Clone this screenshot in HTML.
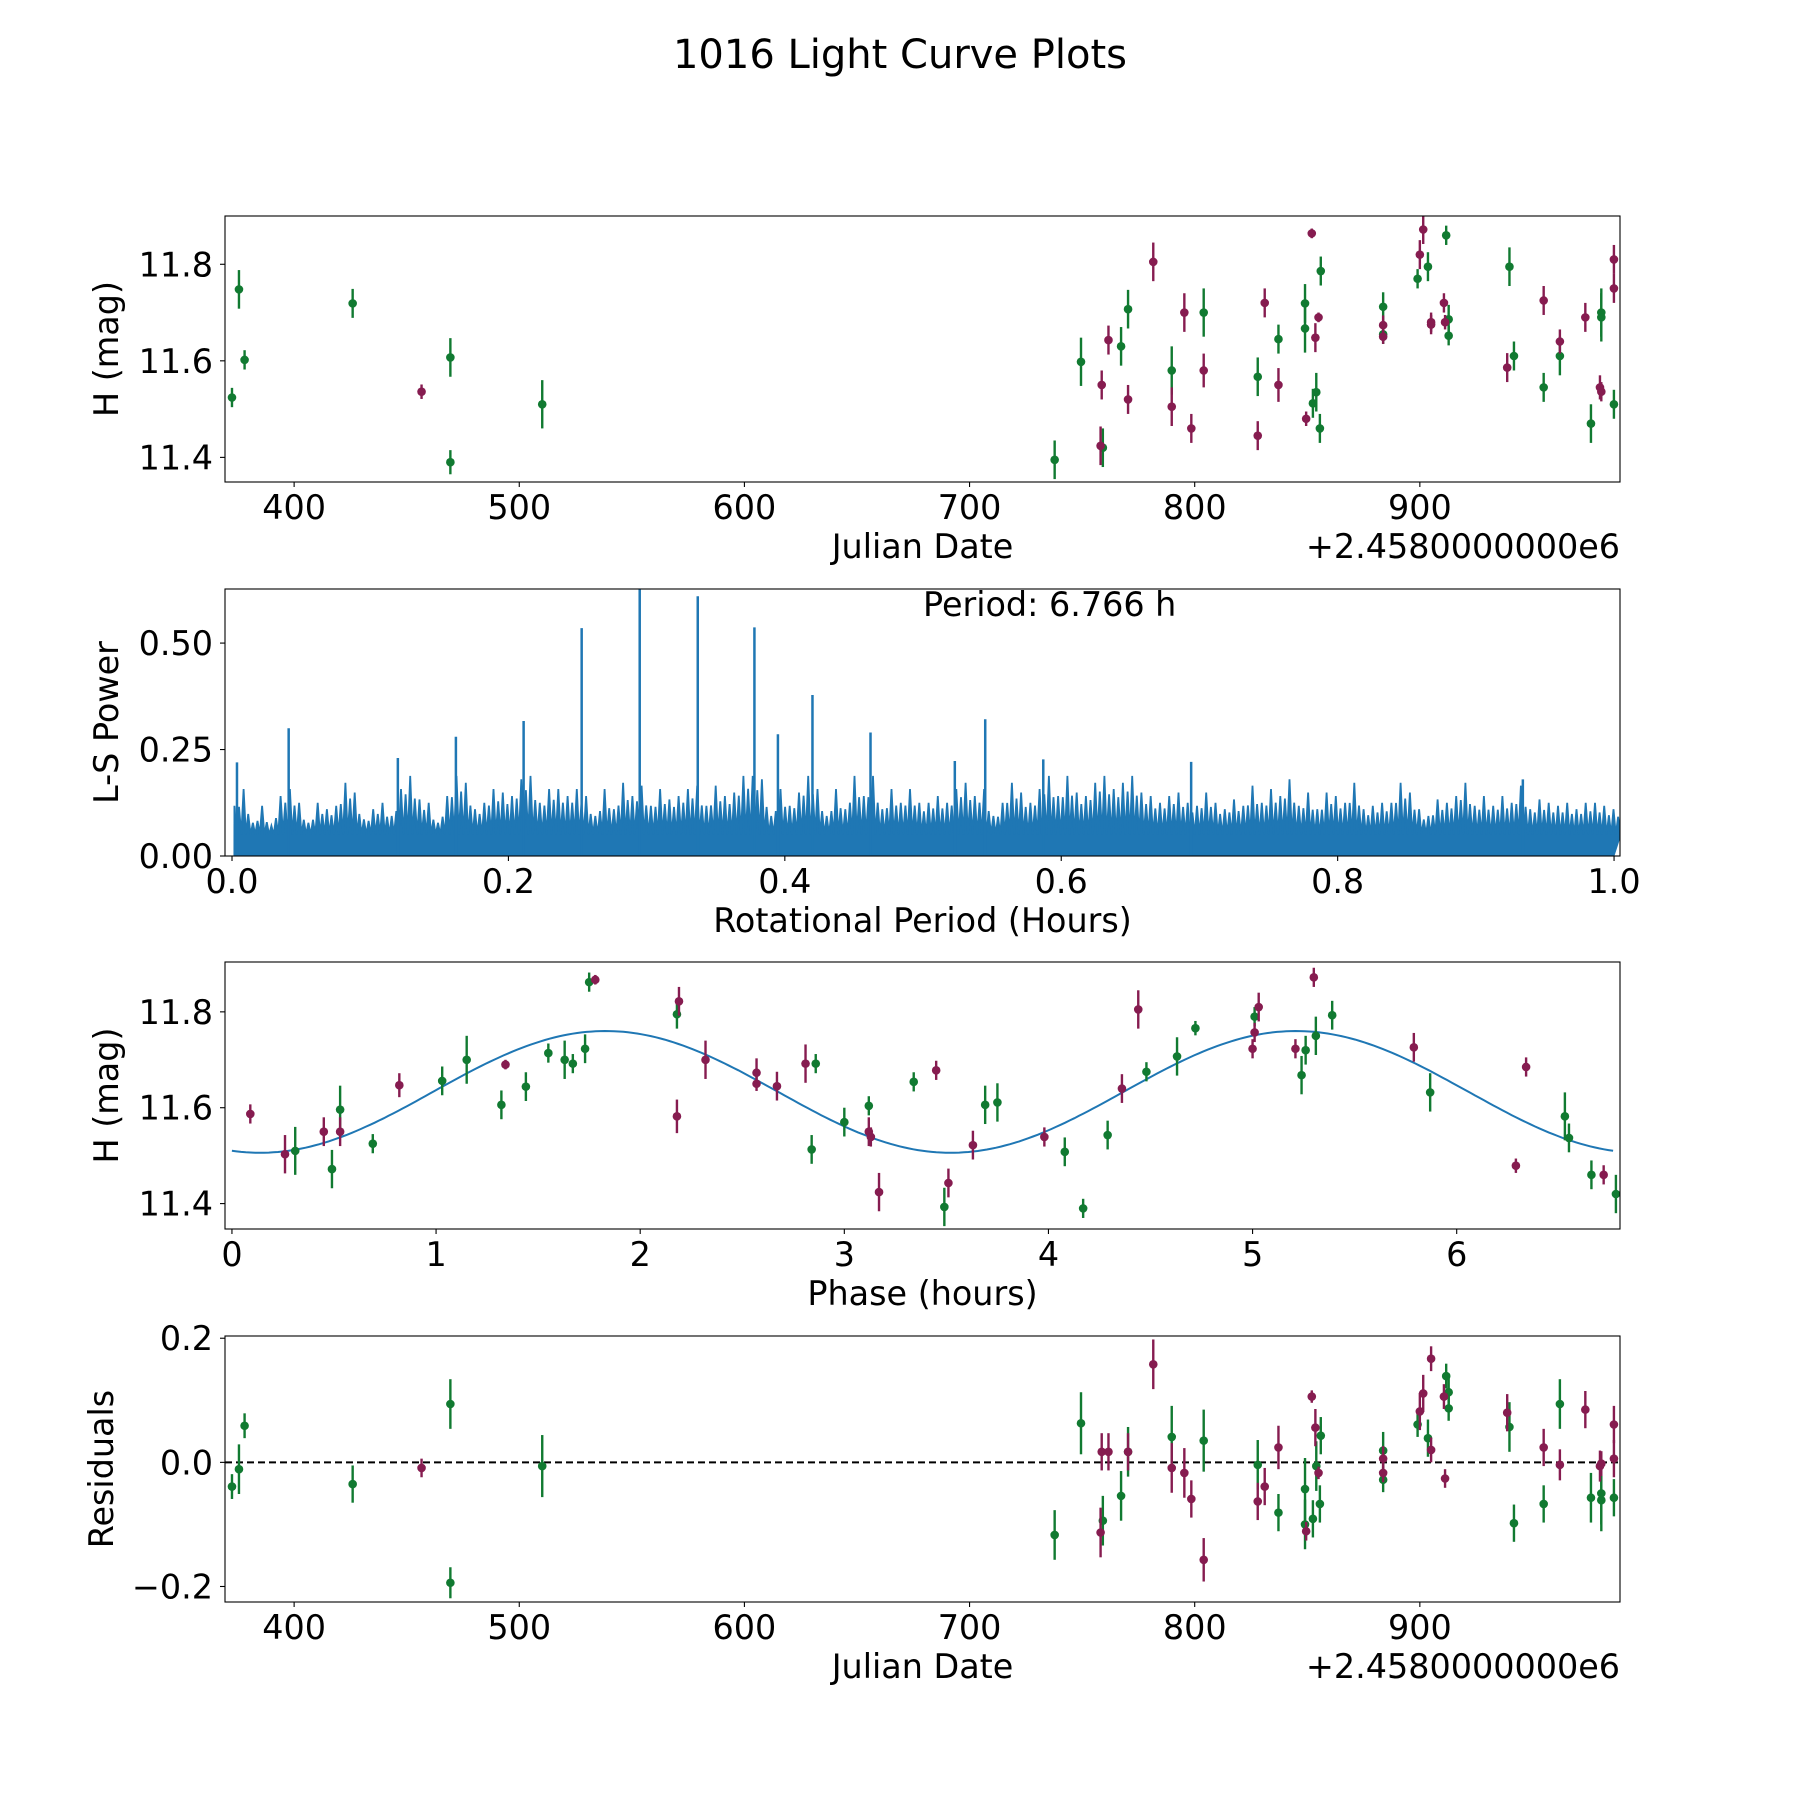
<!DOCTYPE html>
<html><head><meta charset="utf-8"><title>1016 Light Curve Plots</title>
<style>
html,body{margin:0;padding:0;background:#fff;}
svg{display:block;font-family:"DejaVu Sans","Liberation Sans",sans-serif;}
</style></head>
<body>
<svg id="fig" xmlns="http://www.w3.org/2000/svg" width="1800" height="1800" viewBox="0 0 1800 1800">
<rect x="0" y="0" width="1800" height="1800" fill="#fff"/>
<text x="900" y="68" text-anchor="middle" font-size="40">1016 Light Curve Plots</text>
</svg>
<script>
// ---------- Panel 1: light curve (JD offset from 2458000) ----------
const lcGreenJD = [372.4,375.5,378,426,469.4,469.4,510.2,737.8,749.5,759.2,767.3,770.4,789.8,804,828,837.2,849,849,852.5,854,855.6,856,883.7,883.7,899,903.6,911.7,912.8,912.8,939.8,941.8,955,962.2,976,980.6,980.6,986.2];
const lcGreenMag = [11.524,11.748,11.602,11.719,11.607,11.39,11.51,11.395,11.598,11.42,11.63,11.707,11.58,11.70,11.567,11.645,11.667,11.719,11.512,11.535,11.46,11.786,11.712,11.655,11.77,11.795,11.86,11.686,11.652,11.795,11.61,11.545,11.61,11.47,11.70,11.69,11.51];
const lcGreenErr = [0.02,0.04,0.02,0.03,0.04,0.025,0.05,0.04,0.05,0.04,0.04,0.04,0.05,0.05,0.04,0.03,0.05,0.04,0.03,0.04,0.03,0.03,0.03,0.02,0.02,0.03,0.02,0.03,0.02,0.04,0.03,0.03,0.04,0.04,0.05,0.05,0.03];
const lcRedJD = [456.6,758.7,758.2,761.7,770.4,781.6,789.8,795.4,798.5,804,828,831.1,837.2,849.5,852,853.6,855,883.7,883.7,900,901.5,905,905,910.7,911.2,938.8,955,962.2,973.5,980,980.6,986.2,986.2];
const lcRedMag = [11.536,11.55,11.424,11.643,11.52,11.805,11.505,11.70,11.46,11.58,11.445,11.72,11.55,11.48,11.864,11.648,11.69,11.674,11.65,11.82,11.872,11.68,11.675,11.72,11.68,11.586,11.725,11.64,11.69,11.545,11.536,11.81,11.75];
const lcRedErr = [0.015,0.03,0.04,0.03,0.03,0.04,0.04,0.04,0.03,0.035,0.03,0.03,0.035,0.015,0.01,0.03,0.01,0.02,0.015,0.03,0.03,0.02,0.02,0.02,0.015,0.03,0.03,0.025,0.03,0.025,0.02,0.03,0.03];
// ---------- Panel 4: residuals (same JD order) ----------
const resGreen = [-0.039,-0.011,0.059,-0.035,0.094,-0.194,-0.006,-0.117,0.063,-0.094,-0.054,0.017,0.041,0.035,-0.004,-0.081,-0.043,-0.1,-0.091,-0.006,-0.067,0.043,0.019,-0.028,0.061,0.039,0.139,0.113,0.087,0.057,-0.098,-0.067,0.094,-0.057,-0.05,-0.061,-0.057];
const resRed = [-0.009,0.017,-0.113,0.017,0.017,0.158,-0.009,-0.017,-0.059,-0.157,-0.063,-0.039,0.024,-0.111,0.106,0.056,-0.017,0.006,-0.017,0.082,0.111,0.167,0.02,0.106,-0.026,0.08,0.024,-0.004,0.085,-0.006,-0.002,0.006,0.061];
// ---------- Panel 2: periodogram ----------
const powerStartPeriod = 0.0017;
const powerEndPeriod = 0.9996;
const powerValues = [0.118,0.157,0.078,0.118,0.071,0.141,0.157,0.125,0.078,0.125,0.110,0.118,0.172,0.149,0.086,0.110,0.125,0.094,0.157,0.188,0.133,0.125,0.078,0.141,0.188,0.172,0.110,0.125,0.157,0.149,0.141,0.180,0.188,0.125,0.157,0.157,0.141,0.157,0.141,0.094,0.157,0.110,0.172,0.141,0.165,0.118,0.157,0.133,0.141,0.157,0.165,0.118,0.165,0.141,0.149,0.188,0.188,0.180,0.094,0.157,0.118,0.149,0.188,0.157,0.094,0.157,0.110,0.188,0.141,0.188,0.110,0.157,0.125,0.157,0.125,
0.125,0.141,0.125,0.157,0.172,0.141,0.157,0.094,0.125,0.172,0.149,0.125,0.157,0.188,0.141,0.188,0.149,0.141,0.172,0.188,0.157,0.172,0.188,0.149,0.141,0.125,0.141,0.149,0.125,0.118,0.149,0.125,0.110,0.133,0.118,0.165,0.125,0.157,0.141,0.180,0.118,0.149,0.110,0.149,0.141,0.125,0.172,0.110,0.118,0.125,0.125,0.172,0.149,0.110,0.094,0.133,0.125,0.141,0.172,0.118,0.141,0.118,0.141,0.125,0.165,0.110,0.133,0.125,0.118,0.125,0.110,0.125,0.125,0.118,0.110];
const peakPeriods = [0.0036,0.041,0.120,0.162,0.211,0.253,0.295,0.337,0.378,0.395,0.420,0.462,0.523,0.545,0.587,0.694,0.934];
const peakPowers = [0.22,0.30,0.23,0.28,0.317,0.535,0.627,0.61,0.537,0.286,0.378,0.29,0.223,0.321,0.227,0.221,0.18];
const powerTrough = 0.05;
// ---------- Panel 3: phased ----------
const phGreenX = [0.31,0.49,0.53,0.69,1.03,1.15,1.32,1.44,1.55,1.63,1.67,1.73,1.75,2.18,2.84,2.86,3.0,3.12,3.34,3.49,3.69,3.75,4.08,4.17,4.29,4.48,4.63,4.72,5.01,5.24,5.26,5.31,5.39,5.87,6.53,6.55,6.66,6.78];
const phGreenY = [11.51,11.472,11.596,11.525,11.656,11.70,11.606,11.644,11.714,11.70,11.692,11.723,11.862,11.795,11.513,11.692,11.57,11.604,11.654,11.393,11.606,11.611,11.508,11.39,11.543,11.675,11.707,11.766,11.79,11.668,11.72,11.75,11.793,11.632,11.582,11.537,11.46,11.42];
const phGreenErr = [0.05,0.04,0.05,0.02,0.03,0.05,0.03,0.03,0.02,0.04,0.02,0.03,0.02,0.03,0.03,0.02,0.03,0.02,0.02,0.04,0.04,0.04,0.03,0.02,0.03,0.02,0.04,0.015,0.02,0.04,0.03,0.04,0.03,0.04,0.05,0.03,0.03,0.04];
const phRedX = [0.09,0.26,0.45,0.53,0.82,1.34,1.78,2.18,2.19,2.32,2.57,2.57,2.67,2.81,3.12,3.13,3.17,3.45,3.51,3.63,3.98,4.36,4.44,5.0,5.01,5.03,5.21,5.30,5.79,6.29,6.34,6.72];
const phRedY = [11.587,11.503,11.55,11.55,11.647,11.69,11.867,11.582,11.822,11.70,11.673,11.65,11.645,11.692,11.55,11.539,11.424,11.678,11.443,11.522,11.539,11.64,11.805,11.723,11.757,11.81,11.723,11.872,11.726,11.479,11.685,11.46];
const phRedErr = [0.02,0.04,0.03,0.03,0.025,0.01,0.01,0.035,0.03,0.04,0.03,0.015,0.03,0.04,0.03,0.02,0.04,0.02,0.03,0.03,0.02,0.03,0.04,0.02,0.02,0.03,0.02,0.02,0.03,0.015,0.02,0.02];
const fitMean = [11.633];
const fitAmp = [0.127];
const fitPeakPhase = [1.83];
const fitPeriod = [6.766];

const NS = "http://www.w3.org/2000/svg";
const svg = document.getElementById('fig');
const GREEN = "#117a31", RED = "#861c50", BLUE = "#1f77b4";
const FS = 33.4;
function mk(tag, attrs, parent) {
  const e = document.createElementNS(NS, tag);
  for (const k in attrs) e.setAttribute(k, attrs[k]);
  (parent || svg).appendChild(e);
  return e;
}
function scale(d0, d1, r0, r1) { return v => r0 + (v - d0) / (d1 - d0) * (r1 - r0); }

const L = 225, R = 1620;
const panels = [
  {top:216,bottom:482,x:[369.3,988.9],y:[11.349,11.9]},
  {top:589,bottom:856,x:[-0.00507,1.0043],y:[0,0.627]},
  {top:962,bottom:1229,x:[-0.034,6.80],y:[11.347,11.904]},
  {top:1336,bottom:1602,x:[369.3,988.9],y:[-0.225,0.2036]}
];
panels.forEach(p => { p.sx = scale(p.x[0],p.x[1],L,R); p.sy = scale(p.y[0],p.y[1],p.bottom,p.top); });

function clip(id, p) {
  const c = mk('clipPath', {id:id});
  mk('rect', {x:L, y:p.top, width:R-L, height:p.bottom-p.top}, c);
}
function axes(p, name, xt, xtl, yt, ytl, xlabel, ylabel, ylabelX, offsetText) {
  const g = mk('g', {});
  
  
  xt.forEach((v,i) => {
    const x = p.sx(v);
    const t = mk('line', {x1:x,x2:x,y1:p.bottom,y2:p.bottom+5,stroke:'#000','stroke-width':1.1}, g);
    
    
    const tl = mk('text', {x:x, y:p.bottom+37, 'text-anchor':'middle','font-size':FS}, g);
    tl.textContent = xtl[i];
    
    
  });
  yt.forEach((v,i) => {
    const y = p.sy(v);
    const t = mk('line', {x1:L-5,x2:L,y1:y,y2:y,stroke:'#000','stroke-width':1.1}, g);
    
    
    const tl = mk('text', {x:L-12, y:y+12, 'text-anchor':'end','font-size':FS}, g);
    tl.textContent = ytl[i];
    
    
  });
  const xl = mk('text', {x:(L+R)/2, y:p.bottom+76, 'text-anchor':'middle','font-size':FS}, g);
  xl.textContent = xlabel;
  
  
  const cy = (p.top+p.bottom)/2;
  const yl = mk('text', {x:ylabelX, y:cy, 'text-anchor':'middle','font-size':FS, transform:'rotate(-90 '+ylabelX+' '+cy+')'}, g);
  yl.textContent = ylabel;
  
  
  if (offsetText) {
    const o = mk('text', {x:R, y:p.bottom+76, 'text-anchor':'end','font-size':FS}, g);
    o.textContent = offsetText;
    
    
  }
}
function frame(p, name) {
  const r = mk('rect', {x:L,y:p.top,width:R-L,height:p.bottom-p.top,fill:'none',stroke:'#000','stroke-width':1.1});
  
  
}
function errPoints(p, xs, ys, es, color, name, clipId) {
  const g = mk('g', {'clip-path':'url(#'+clipId+')'});
  
  
  xs.forEach((xv,i) => {
    const x = p.sx(xv), y = p.sy(ys[i]);
    const e = es ? es[i] : 0;
    if (e) {
      const l = mk('line', {x1:x,x2:x,y1:p.sy(ys[i]-e),y2:p.sy(ys[i]+e),stroke:color,'stroke-width':2.4}, g);
      
      
    }
    const c = mk('circle', {cx:x, cy:y, r:4.3, fill:color}, g);
    
    
  });
}

// Panel 1
const p1 = panels[0];
clip('c1', p1);
const jdTicks = [400,500,600,700,800,900];
const jdTickLabels = ['400','500','600','700','800','900'];
axes(p1, 'lightcurve', jdTicks, jdTickLabels, [11.4,11.6,11.8], ['11.4','11.6','11.8'], 'Julian Date', 'H (mag)', 118, '+2.4580000000e6');
errPoints(p1, lcGreenJD, lcGreenMag, lcGreenErr, GREEN, 'lightcurve-green', 'c1');
errPoints(p1, lcRedJD, lcRedMag, lcRedErr, RED, 'lightcurve-red', 'c1');
frame(p1, 'lightcurve');

// Panel 2
const p2 = panels[1];
clip('c2', p2);
axes(p2, 'periodogram', [0,0.2,0.4,0.6,0.8,1.0], ['0.0','0.2','0.4','0.6','0.8','1.0'], [0,0.25,0.5], ['0.00','0.25','0.50'], 'Rotational Period (Hours)', 'L-S Power', 118, null);
(function(){
  const n = powerValues.length;
  const step = (powerEndPeriod - powerStartPeriod) / (n - 1);
  let d = 'M' + p2.sx(powerStartPeriod) + ' ' + p2.sy(0);
  powerValues.forEach((v,i) => {
    const per = powerStartPeriod + i*step;
    const nxt = i < n-1 ? powerValues[i+1] : v;
    const mid = (v + nxt) * 0.42;
    d += ' L' + p2.sx(per).toFixed(1) + ' ' + p2.sy(v).toFixed(1);
    d += ' L' + p2.sx(per + step*0.25).toFixed(1) + ' ' + p2.sy(powerTrough).toFixed(1);
    d += ' L' + p2.sx(per + step*0.5).toFixed(1) + ' ' + p2.sy(mid).toFixed(1);
    d += ' L' + p2.sx(per + step*0.75).toFixed(1) + ' ' + p2.sy(powerTrough).toFixed(1);
  });
  d += ' L' + p2.sx(powerEndPeriod) + ' ' + p2.sy(0) + ' Z';
  const area = mk('path', {d:d, fill:BLUE, stroke:BLUE, 'stroke-width':1.8, 'stroke-linejoin':'miter', 'clip-path':'url(#c2)'});
  
  
  peakPeriods.forEach((per,i) => {
    const x = p2.sx(per);
    const s = mk('line', {x1:x,x2:x,y1:p2.sy(0),y2:p2.sy(peakPowers[i]),stroke:BLUE,'stroke-width':2.5,'clip-path':'url(#c2)'});
    
    
  });
})();
const pt = mk('text', {x:923, y:616, 'font-size':FS});
pt.textContent = 'Period: 6.766 h';


frame(p2, 'periodogram');

// Panel 3
const p3 = panels[2];
clip('c3', p3);
axes(p3, 'phased', [0,1,2,3,4,5,6], ['0','1','2','3','4','5','6'], [11.4,11.6,11.8], ['11.4','11.6','11.8'], 'Phase (hours)', 'H (mag)', 118, null);
(function(){
  let d = '';
  const N = 300;
  for (let i = 0; i <= N; i++) {
    const ph = fitPeriod[0] * i / N;
    const v = fitMean[0] + fitAmp[0] * Math.cos(2*Math.PI*(ph - fitPeakPhase[0]) / (fitPeriod[0]/2));
    d += (i ? ' L' : 'M') + p3.sx(ph).toFixed(1) + ' ' + p3.sy(v).toFixed(1);
  }
  const fl = mk('path', {d:d, fill:'none', stroke:BLUE, 'stroke-width':2, 'clip-path':'url(#c3)'});
  
  
})();
errPoints(p3, phGreenX, phGreenY, phGreenErr, GREEN, 'phased-green', 'c3');
errPoints(p3, phRedX, phRedY, phRedErr, RED, 'phased-red', 'c3');
frame(p3, 'phased');

// Panel 4
const p4 = panels[3];
clip('c4', p4);
axes(p4, 'residuals', jdTicks, jdTickLabels, [-0.2,0,0.2], ['\u22120.2','0.0','0.2'], 'Julian Date', 'Residuals', 113, '+2.4580000000e6');
const zl = mk('line', {x1:L,x2:R,y1:p4.sy(0),y2:p4.sy(0),stroke:'#000','stroke-width':2,'stroke-dasharray':'7,4'});


errPoints(p4, lcGreenJD, resGreen, lcGreenErr, GREEN, 'residuals-green', 'c4');
errPoints(p4, lcRedJD, resRed, lcRedErr, RED, 'residuals-red', 'c4');
frame(p4, 'residuals');
</script>
</body></html>
